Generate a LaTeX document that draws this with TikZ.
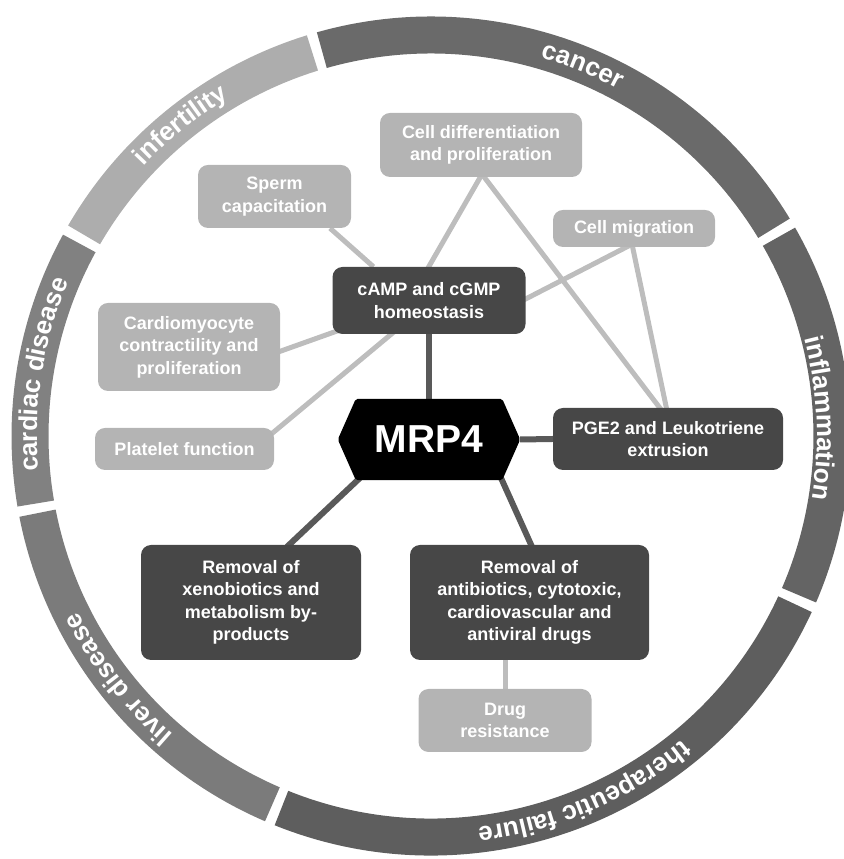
\documentclass[tikz,border=0pt]{standalone}
\usepackage{fontspec}
\setmainfont{Liberation Sans}
\usetikzlibrary{calc,decorations.text,backgrounds}
\definecolor{lbox}{HTML}{B4B4B4}
\definecolor{dbox}{HTML}{474747}
\definecolor{lline}{HTML}{BDBDBD}
\definecolor{dline}{HTML}{595959}
\definecolor{rcancer}{HTML}{6A6A6A}
\definecolor{rinfert}{HTML}{ADADAD}
\definecolor{rcardiac}{HTML}{818181}
\definecolor{rliver}{HTML}{7B7B7B}
\definecolor{rtherap}{HTML}{5E5E5E}
\definecolor{rinflam}{HTML}{646464}
\newcommand\ringfont{\bfseries\fontsize{26}{26}\selectfont}
\begin{document}
\begin{tikzpicture}[x=1pt,y=1pt,
  box/.style={rounded corners=10pt, align=center, text=white,
    font=\bfseries\fontsize{18}{22.5}\selectfont, inner sep=0pt},
  lightbox/.style={box, fill=lbox},
  darkbox/.style={box, fill=dbox},
  lconn/.style={draw=lline, line width=5pt},
  dconn/.style={draw=dline, line width=6pt},
  band/.style={line width=37pt},
  ringtext/.style={decorate, decoration={text along path, text align=center,
    text color=white, text={|\ringfont|#1}}}
  ]
\useasboundingbox (0,0) rectangle (843,859);
\coordinate (ring) at (431,423);

% ring segments
\draw[band, rcancer]  ($(ring)+(31.2:401)$)  arc[start angle=31.2,  end angle=105.8, radius=401];
\draw[band, rinfert]  ($(ring)+(107.2:401)$) arc[start angle=107.2, end angle=149.9, radius=401];
\draw[band, rcardiac] ($(ring)+(151.3:401)$) arc[start angle=151.3, end angle=189.7, radius=401];
\draw[band, rliver]   ($(ring)+(191.1:401)$) arc[start angle=191.1, end angle=246.7, radius=401];
\draw[band, rtherap]  ($(ring)+(248.1:401)$) arc[start angle=248.1, end angle=335.2, radius=401];
\draw[band, rinflam]  ($(ring)+(336.6:401)$) arc[start angle=336.6, end angle=389.8, radius=401];

% ring labels (clockwise, tops outward)
\path[ringtext=cancer]        ($(ring)+(97.7:394)$)  arc[start angle=97.7,  end angle=37.7,  radius=394];
\path[ringtext=infertility]   ($(ring)+(163.8:394)$) arc[start angle=163.8, end angle=93.8,  radius=394];
\path[ringtext=cardiac disease] ($(ring)+(211:394)$) arc[start angle=211,   end angle=131,   radius=394];
\path[ringtext=liver disease] ($(ring)+(257.8:394)$) arc[start angle=257.8, end angle=177.8, radius=394];
\path[ringtext=therapeutic failure] ($(ring)+(-21.8:394)$) arc[start angle=-21.8, end angle=-111.8, radius=394];
\path[ringtext=inflammation]  ($(ring)+(42.6:386)$)  arc[start angle=42.6,  end angle=-37.4, radius=386];

% nodes
\node[lightbox, minimum width=202pt, minimum height=64pt] (celldiff) at (481,714) {Cell differentiation\\and proliferation};
\node[lightbox, minimum width=153pt, minimum height=63pt] (sperm) at (274.5,662.5) {Sperm\\capacitation};
\node[lightbox, minimum width=162pt, minimum height=37pt] (migr) at (634,630.5) {Cell migration};
\node[darkbox, minimum width=193pt, minimum height=67pt] (camp) at (429,558.5) {cAMP and cGMP\\homeostasis};
\node[lightbox, minimum width=182pt, minimum height=88pt] (cardio) at (189,512) {Cardiomyocyte\\contractility and\\proliferation};
\node[lightbox, minimum width=179pt, minimum height=42pt] (platelet) at (184.5,410) {Platelet function};
\node[text=white, font=\bfseries\fontsize{39}{39}\selectfont, minimum width=182pt, minimum height=81pt, inner sep=0pt] (mrp) at (429,419.5) {MRP4};
\node[darkbox, minimum width=230pt, minimum height=62pt] (pge) at (668,420) {PGE2 and Leukotriene\\extrusion};
\node[darkbox, minimum width=220pt, minimum height=115pt] (xeno) at (251,256.5) {Removal of\\xenobiotics and\\metabolism by-\\products};
\node[darkbox, minimum width=239pt, minimum height=115pt] (anti) at (529.5,256.5) {Removal of\\antibiotics, cytotoxic,\\cardiovascular and\\antiviral drugs};
\node[lightbox, minimum width=173pt, minimum height=63pt] (drug) at (505,138.5) {Drug\\resistance};

% connectors
\begin{scope}[on background layer]
  \draw[lconn] ($(sperm.south)+(55.5,0)$) -- ($(camp.north)+(-55.5,0)$);
  \draw[lconn] ($(cardio.east)+(-2,-5)$) -- ($(camp.west)+(9,-29)$);
  \draw[lconn] ($(platelet.north east)+(-5,-8)$) -- ($(camp.south)+(-33,4)$);
  \draw[lconn] ($(camp.north)+(-2,-3)$) -- ($(celldiff.south)+(1,3)$);
  \draw[lconn] ($(celldiff.south)+(1,3)$) -- ($(pge.north)+(-6,-3)$);
  \draw[lconn] ($(migr.south)+(-2,3)$) -- ($(camp.east)+(-3,0)$);
  \draw[lconn] ($(migr.south)+(-2,3)$) -- ($(pge.north)+(-1,-3)$);
  \draw[lconn] (drug.north) -- (drug.north |- anti.south);
  \draw[dconn] (camp.south) -- (mrp.north);
  \draw[dconn] (mrp.east) -- (pge.west);
  \draw[dconn] ($(mrp.south west)+(24,4)$) -- ($(xeno.north)+(36,-2)$);
  \draw[dconn] ($(mrp.south east)+(-20,4)$) -- ($(anti.north)+(2.5,-2)$);
  \fill[black, rounded corners=2pt] (mrp.west) -- ($(mrp.north west)+(18,0)$) -- ($(mrp.north east)+(-18,0)$)
    -- (mrp.east) -- ($(mrp.south east)+(-18,0)$) -- ($(mrp.south west)+(18,0)$) -- cycle;
\end{scope}
\end{tikzpicture}
\end{document}
